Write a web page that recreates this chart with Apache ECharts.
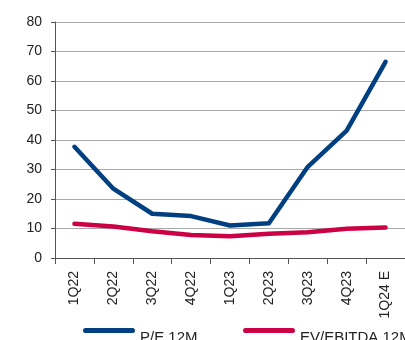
<!DOCTYPE html>
<html><head><meta charset="utf-8">
<script src="https://cdn.jsdelivr.net/npm/echarts@6/dist/echarts.min.js"></script>
<style>html,body{margin:0;padding:0;background:#fff}#c{width:405px;height:340px}</style>
</head><body><div id="c"></div>
<script>
var categories = ['1Q22','2Q22','3Q22','4Q22','1Q23','2Q23','3Q23','4Q23','1Q24 E'];
var peValues = [37.7, 23.5, 15.0, 14.2, 11.0, 11.8, 30.9, 43.2, 66.5];
var evValues = [11.6, 10.7, 9.1, 7.8, 7.4, 8.2, 8.7, 9.9, 10.3];
var yTicks = [0, 10, 20, 30, 40, 50, 60, 70, 80];
var seriesNames = ['P/E 12M', 'EV/EBITDA 12M'];
var chart = echarts.init(document.getElementById('c'), null, {renderer:'canvas'});
var font = 'Liberation Sans, Arial, sans-serif';
var iconPath = 'path://M2.5,0H49.5A2.5,2.5,0,0,1,49.5,5H2.5A2.5,2.5,0,0,1,2.5,0Z M0,19.99H0.01V20H0Z';
function mkLegend(name, left){
  return {left:left, top:328, itemWidth:52, itemHeight:20, icon:iconPath, padding:0,
    textStyle:{color:'#222', fontSize:15, fontFamily:font}, data:[name]};
}
chart.setOption({
  animation:false,
  textStyle:{fontFamily:font},
  grid:{left:55, right:-12, top:22, bottom:82, containLabel:false},
  xAxis:{type:'category', data:categories, boundaryGap:true,
    axisLine:{lineStyle:{color:'#555', width:1}},
    axisTick:{show:true, length:6, lineStyle:{color:'#555'}},
    axisLabel:{rotate:90, color:'#222', fontSize:14, fontFamily:font, margin:13}},
  yAxis:{type:'value', min:yTicks[0], max:yTicks[yTicks.length-1], interval:10,
    axisLine:{show:true, lineStyle:{color:'#555', width:1}},
    axisTick:{show:true, length:4, lineStyle:{color:'#555'}},
    splitLine:{lineStyle:{color:'#a8a8a8', width:1}},
    axisLabel:{color:'#222', fontSize:14, fontFamily:font, margin:13}},
  legend:[mkLegend(seriesNames[0], 83), mkLegend(seriesNames[1], 243)],
  series:[
    {name:seriesNames[0], type:'line', data:peValues, symbol:'none',
     lineStyle:{color:'#003F80', width:4.5, cap:'round', join:'round'}, itemStyle:{color:'#003F80'}},
    {name:seriesNames[1], type:'line', data:evValues, symbol:'none',
     lineStyle:{color:'#CC0044', width:4.5, cap:'round', join:'round'}, itemStyle:{color:'#CC0044'}}
  ]
});
</script></body></html>
